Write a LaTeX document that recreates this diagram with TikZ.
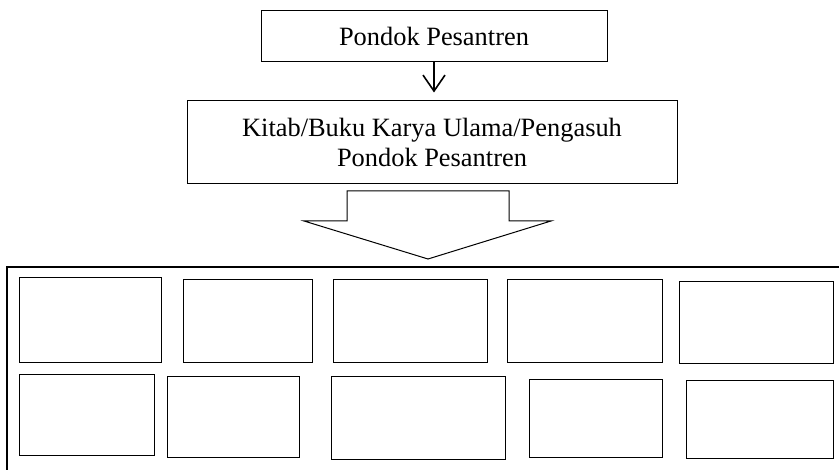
\documentclass[tikz,border=0pt]{standalone}
\usepackage{fontspec}
\setmainfont{Liberation Serif}
\usetikzlibrary{arrows.meta}
\begin{document}
\begin{tikzpicture}[x=1pt,y=-1pt,
  tbox/.style={draw=black,line width=1pt,rectangle,inner sep=0pt,align=center,
    font=\fontsize{26.4}{30}\selectfont},
  sbox/.style={draw=black,line width=1.1pt,rectangle,inner sep=0pt,anchor=north west},
  thinarrow/.style={line width=1.6pt,-{Straight Barb[length=16pt,width=22pt,line width=1.6pt]}}]
\useasboundingbox (0,0) rectangle (839,470);
\clip (0,0) rectangle (839,470);
% top boxes
\node[tbox,minimum width=346pt,minimum height=51pt] (top) at (434,36.5) {Pondok Pesantren};
\node[tbox,minimum width=490pt,minimum height=83pt] (kitab) at (432,142.5)
  {Kitab/Buku Karya Ulama/Pengasuh\\Pondok Pesantren};
\draw[thinarrow,shorten >=8pt] (top.south) -- (top.south |- kitab.north);
% block arrow
\draw[line width=1pt,line join=miter] (347,191) -- (509,191) -- (509,221) -- (551,221) -- (428,259)
  -- (304,221) -- (347,221) -- cycle;
% outer frame
\draw[line width=2.5pt] (7,267) rectangle (860,490);
% row 1
\path (19,277) node[sbox,minimum width=142pt,minimum height=85pt] (a1) {};
\path (183,279) node[sbox,minimum width=129pt,minimum height=83pt] (a2) {};
\path (333,279) node[sbox,minimum width=154pt,minimum height=83pt] (a3) {};
\path (507,279) node[sbox,minimum width=155pt,minimum height=83pt] (a4) {};
\path (679,281) node[sbox,minimum width=154pt,minimum height=82pt] (a5) {};
% row 2
\path (19,374) node[sbox,minimum width=135pt,minimum height=81pt] (b1) {};
\path (167,376) node[sbox,minimum width=132pt,minimum height=81pt] (b2) {};
\path (331,376) node[sbox,minimum width=174pt,minimum height=83pt] (b3) {};
\path (529,379) node[sbox,minimum width=133pt,minimum height=78pt] (b4) {};
\path (686,380) node[sbox,minimum width=147pt,minimum height=78pt] (b5) {};
\end{tikzpicture}
\end{document}
